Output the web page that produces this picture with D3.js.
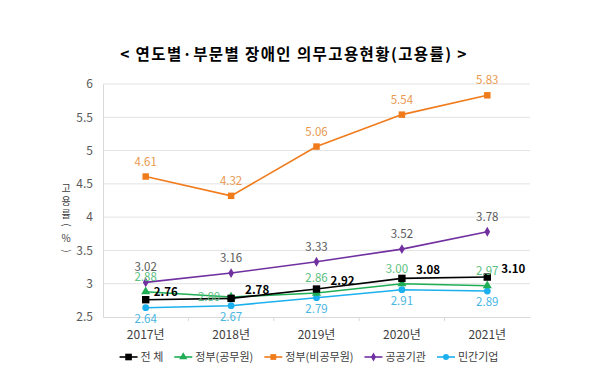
<!DOCTYPE html>
<html>
<head>
<meta charset="utf-8">
<script src="https://cdn.jsdelivr.net/npm/d3@7"></script>
<style>
  body { margin: 0; background: #fff; }
  text { font-family: "Noto Sans CJK KR", "Noto Sans", sans-serif; }
</style>
</head>
<body>
<div id="chart"></div>
<script>
const years = ["2017년", "2018년", "2019년", "2020년", "2021년"];
const yTicks = [2.5, 3, 3.5, 4, 4.5, 5, 5.5, 6];

const total = [2.76, 2.78, 2.92, 3.08, 3.10];
const govOfficial = [2.88, 2.80, 2.86, 3.00, 2.97];
const govNonOfficial = [4.61, 4.32, 5.06, 5.54, 5.83];
const publicInst = [3.02, 3.16, 3.33, 3.52, 3.78];
const privateCo = [2.64, 2.67, 2.79, 2.91, 2.89];

const seriesNames = ["전 체", "정부(공무원)", "정부(비공무원)", "공공기관", "민간기업"];

(function () {
  const W = 600, H = 384;
  const margin = { top: 84, right: 70, bottom: 67, left: 103 };
  const width = W - margin.left - margin.right;
  const height = H - margin.top - margin.bottom;

  const svg = d3.select("#chart").append("svg")
    .attr("width", W).attr("height", H);

  const g = svg.append("g")
    .attr("transform", `translate(${margin.left},${margin.top})`);

  const x = d3.scaleBand().domain(years).range([0, width]);
  const y = d3.scaleLinear().domain([2.5, 6]).range([height, 0]);
  const cx = d => x(d) + x.bandwidth() / 2;

  // title
  svg.append("text")
    .attr("x", 294).attr("y", 60)
    .attr("text-anchor", "middle")
    .style("font-size", "15.5px")
    .style("font-weight", "700")
    .style("letter-spacing", "1.4px")
    .text("< 연도별·부문별 장애인 의무고용현황(고용률) >");

  // grid
  g.append("g").selectAll("line").data(yTicks.slice(1)).join("line")
    .attr("x1", 0).attr("x2", width)
    .attr("y1", d => y(d)).attr("y2", d => y(d))
    .attr("stroke", "#e3e3e3");

  // axes
  const yAxis = g.append("g")
    .call(d3.axisLeft(y).tickValues(yTicks).tickSize(0).tickPadding(10).tickFormat(d3.format("")));
  yAxis.select(".domain").attr("stroke", "#d9d9d9");
  yAxis.selectAll("text").style("font-size", "12px").attr("fill", "#595959");

  const xAxis = g.append("g")
    .attr("transform", `translate(0,${height})`)
    .call(d3.axisBottom(x).tickSize(0).tickPadding(13));
  xAxis.select(".domain").attr("stroke", "#d9d9d9");
  xAxis.selectAll("text").style("font-size", "12px").attr("fill", "#404040");
  // band boundary ticks
  g.append("g").selectAll("line").data(years.slice(1)).join("line")
    .attr("x1", d => x(d)).attr("x2", d => x(d))
    .attr("y1", height).attr("y2", height + 4)
    .attr("stroke", "#d9d9d9");

  // y label, stacked characters (brackets turned sideways)
  const yLabel = [["고", false], ["용", false], ["률", false], ["(", true], ["%", false], [")", true]];
  const yl = svg.append("g").attr("transform", "translate(66,0)");
  yLabel.forEach(([ch, rot], i) => {
    const cy = 188 + i * 13 - (i > 2 ? 2 : 0);
    yl.append("text")
      .attr("transform", `translate(0,${cy})` + (rot ? " rotate(90)" : ""))
      .attr("text-anchor", "middle")
      .attr("dy", "0.35em")
      .style("font-size", "10px")
      .attr("fill", "#404040")
      .text(ch);
  });

  const series = [
    { name: seriesNames[0], values: total, color: "#000000", label: "#000000", shape: d3.symbolSquare, size: 55, pos: "right", bold: true },
    { name: seriesNames[1], values: govOfficial, color: "#1fae54", label: "#5cc081", shape: d3.symbolTriangle, size: 36, pos: "above" },
    { name: seriesNames[2], values: govNonOfficial, color: "#f07b1b", label: "#e8994f", shape: d3.symbolSquare, size: 42, pos: "above" },
    { name: seriesNames[3], values: publicInst, color: "#7030a0", label: "#595959", shape: d3.symbolDiamond, size: 28, pos: "above" },
    { name: seriesNames[4], values: privateCo, color: "#1cb0ee", label: "#4ab7e3", shape: d3.symbolCircle, size: 36, pos: "below" }
  ];

  const line = d3.line().x((d, i) => cx(years[i])).y(d => y(d));

  // draw back to front
  const order = [4, 3, 2, 1, 0];
  order.forEach(k => {
    const s = series[k];
    g.append("path").datum(s.values)
      .attr("d", line)
      .attr("fill", "none")
      .attr("stroke", s.color)
      .attr("stroke-width", 1.6);
    g.append("g").selectAll("path").data(s.values).join("path")
      .attr("d", d3.symbol().type(s.shape).size(s.size))
      .attr("transform", (d, i) => `translate(${cx(years[i])},${y(d)})`)
      .attr("fill", s.color);
  });

  // value labels
  series.forEach(s => {
    g.append("g").selectAll("text").data(s.values).join("text")
      .attr("x", (d, i) => {
        if (s.pos === "right") return cx(years[i]) + (i === 0 ? 8 : 14);
        if (s.name === "정부(공무원)" && i === 1) return cx(years[i]) - 22;
        if (s.name === "정부(공무원)" && i === 3) return cx(years[i]) - 5;
        return cx(years[i]);
      })
      .attr("y", (d, i) => {
        if (s.pos === "right") return y(d) - 4;
        if (s.pos === "below") return y(d) + 15;
        if (s.name === "정부(공무원)" && i === 1) return y(d) + 4;
        return y(d) - 11;
      })
      .attr("text-anchor", s.pos === "right" ? "start" : "middle")
      .style("font-size", "11.5px")
      .style("font-weight", s.bold ? "700" : "400")
      .attr("fill", s.label)
      .text(d => d.toFixed(2));
  });

  // legend
  const legend = svg.append("g");
  let lx = 0;
  series.forEach(s => {
    const it = legend.append("g");
    it.append("line").attr("x1", 0).attr("x2", 18).attr("stroke", s.color).attr("stroke-width", 1.6);
    it.append("path").attr("d", d3.symbol().type(s.shape).size(s.size * 0.8)).attr("transform", "translate(9,0)").attr("fill", s.color);
    const t = it.append("text").attr("x", 21).attr("dy", "0.35em")
      .style("font-size", "11px").attr("fill", "#404040").text(s.name);
    const w = 21 + t.node().getComputedTextLength();
    it.attr("transform", `translate(${lx},0)`);
    lx += w + 11;
  });
  const totalW = lx - 11;
  legend.attr("transform", `translate(${309 - totalW / 2},357)`);
})();
</script>
</body>
</html>
